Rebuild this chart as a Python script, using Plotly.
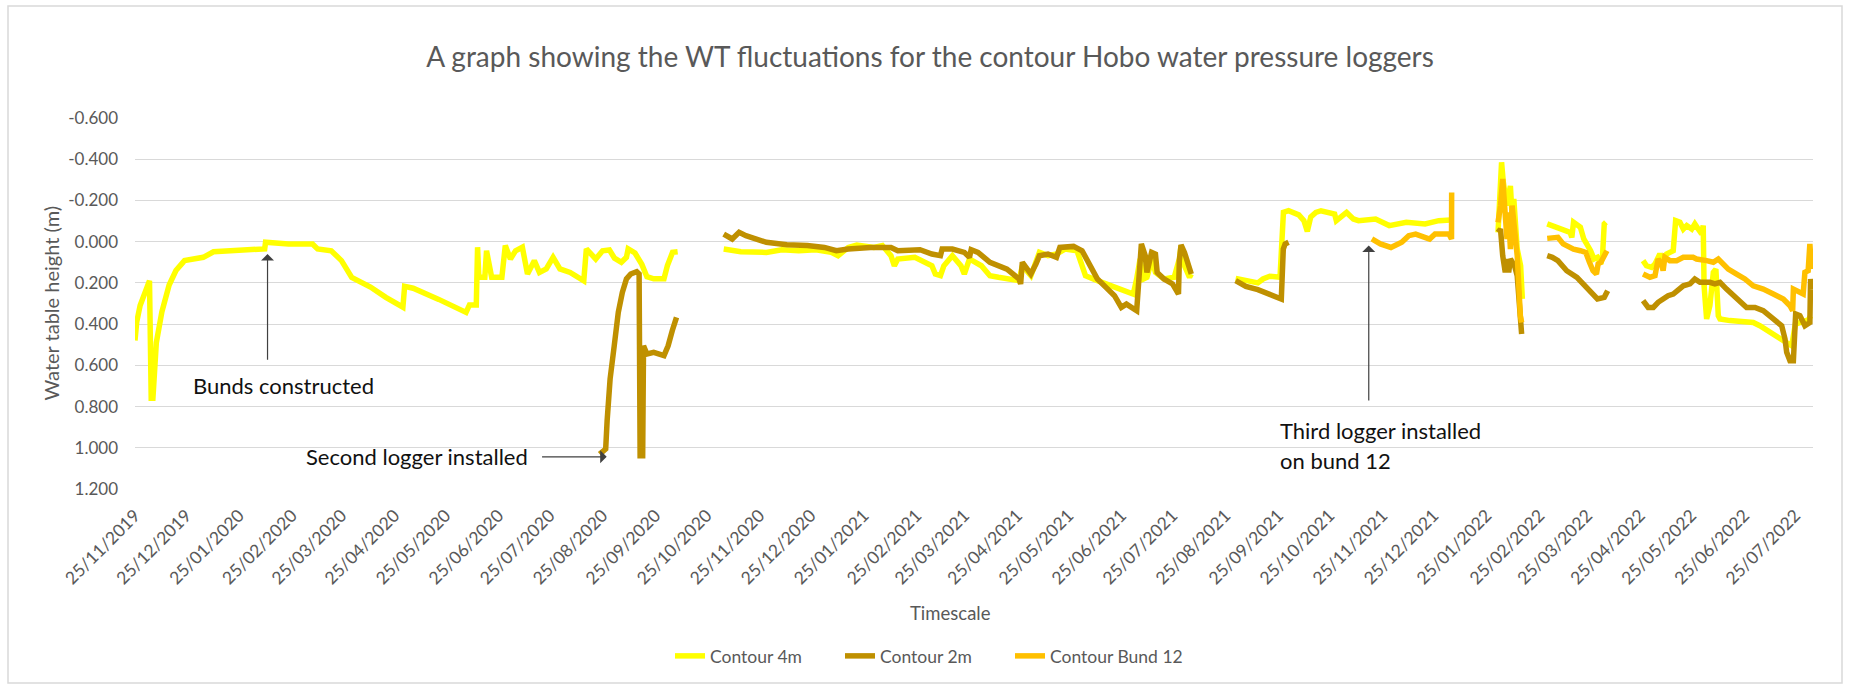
import plotly.graph_objects as go
import pandas as pd

# ---------------- data ----------------
dates_4m = [
    "2019-11-25 00:00", "2019-11-26 00:00", "2019-11-28 00:00", "2019-12-01 00:00", "2019-12-03 12:00",
    "2019-12-04 12:00", "2019-12-05 12:00", "2019-12-07 12:00", "2019-12-10 18:00", "2019-12-15 00:00",
    "2019-12-19 00:00", "2019-12-24 00:00", "2020-01-04", "2020-01-10", "2020-01-27",
    "2020-02-09 00:00", "2020-02-09 12:00", "2020-02-23", "2020-03-08", "2020-03-11",
    "2020-03-19", "2020-03-25", "2020-03-31", "2020-04-11", "2020-04-20",
    "2020-04-30", "2020-05-01", "2020-05-06", "2020-05-21", "2020-05-31",
    "2020-06-06", "2020-06-08", "2020-06-12 00:00", "2020-06-12 18:00", "2020-06-13 12:00",
    "2020-06-17", "2020-06-18", "2020-06-21", "2020-06-27", "2020-06-29",
    "2020-07-02", "2020-07-05", "2020-07-09", "2020-07-12", "2020-07-16",
    "2020-07-19", "2020-07-23", "2020-07-27", "2020-07-31", "2020-08-06",
    "2020-08-14 00:00", "2020-08-15 12:00", "2020-08-21", "2020-08-25", "2020-08-29",
    "2020-09-01", "2020-09-05", "2020-09-08", "2020-09-09", "2020-09-13",
    "2020-09-17", "2020-09-20", "2020-09-24", "2020-09-30", "2020-10-02",
    "2020-10-05", "2020-10-08",
    "2020-10-20",
    "2020-11-04", "2020-11-14", "2020-11-29", "2020-12-08", "2020-12-18",
    "2020-12-28", "2021-01-06", "2021-01-10", "2021-01-16", "2021-01-21",
    "2021-01-31", "2021-02-05", "2021-02-10", "2021-02-12", "2021-02-14",
    "2021-02-24", "2021-03-06", "2021-03-08", "2021-03-11", "2021-03-13",
    "2021-03-18", "2021-03-23", "2021-03-25", "2021-03-28", "2021-04-04",
    "2021-04-09", "2021-04-14", "2021-04-26", "2021-04-28", "2021-05-03",
    "2021-05-08", "2021-05-13", "2021-05-18", "2021-05-23", "2021-05-30",
    "2021-06-04", "2021-06-11", "2021-06-21", "2021-07-02", "2021-07-04",
    "2021-07-06", "2021-07-08", "2021-07-10", "2021-07-13", "2021-07-15",
    "2021-07-20", "2021-07-26", "2021-07-29", "2021-07-30", "2021-08-01",
    "2021-08-04", "2021-08-05",
    "2021-08-18",
    "2021-08-31", "2021-09-06", "2021-09-13", "2021-09-16", "2021-09-20",
    "2021-09-26", "2021-09-27", "2021-09-28", "2021-10-01", "2021-10-07",
    "2021-10-10", "2021-10-12", "2021-10-14", "2021-10-17", "2021-10-20",
    "2021-10-28", "2021-10-29", "2021-11-04", "2021-11-08", "2021-11-11",
    "2021-11-21", "2021-11-29", "2021-12-09", "2021-12-20", "2021-12-28",
    "2022-01-04",
    "2022-01-15",
    "2022-01-31 18:00", "2022-02-02 20:00", "2022-02-03 20:00", "2022-02-05 20:00", "2022-02-08 00:00",
    "2022-02-09 00:00", "2022-02-10 00:00", "2022-02-12 00:00", "2022-02-14 00:00", "2022-02-15 00:00",
    "2022-02-20",
    "2022-03-01 14:00", "2022-03-08 20:00", "2022-03-15", "2022-03-16", "2022-03-17",
    "2022-03-21", "2022-03-23", "2022-03-27", "2022-03-29", "2022-03-31",
    "2022-04-02", "2022-04-03", "2022-04-04", "2022-04-05",
    "2022-04-15",
    "2022-04-26 18:00", "2022-04-28 18:00", "2022-05-01 18:00", "2022-05-03 18:00", "2022-05-06 14:00",
    "2022-05-08 12:00", "2022-05-10 12:00", "2022-05-12 10:00", "2022-05-14 10:00", "2022-05-15 20:00",
    "2022-05-18 08:00", "2022-05-20 08:00", "2022-05-22 08:00", "2022-05-25 06:00", "2022-05-27 02:00",
    "2022-05-29 02:00", "2022-05-31 02:00", "2022-06-01 00:00", "2022-06-01 12:00", "2022-06-03 00:00",
    "2022-06-04 22:00", "2022-06-06 22:00", "2022-06-08 10:00", "2022-06-09 20:00", "2022-06-10 20:00",
    "2022-06-16 16:00", "2022-06-24 12:00", "2022-06-30 08:00", "2022-07-04 04:00", "2022-07-10 02:00",
    "2022-07-16 00:00", "2022-07-21 20:00", "2022-07-22 20:00", "2022-07-25 00:00", "2022-08-01 12:00",
    "2022-08-03 00:00",
]
wt_4m = [
    0.48, 0.39, 0.31, 0.25, 0.19,
    0.76, 0.76, 0.49, 0.34, 0.21,
    0.14, 0.092, 0.076, 0.049, 0.039,
    0.035, 0.003, 0.011, 0.011, 0.035,
    0.044, 0.092, 0.173, 0.22, 0.27,
    0.318, 0.217, 0.226, 0.28, 0.318,
    0.343, 0.307, 0.307, 0.027, 0.173,
    0.173, 0.044, 0.173, 0.173, 0.019,
    0.084, 0.044, 0.027, 0.157, 0.092,
    0.149, 0.132, 0.076, 0.132, 0.149,
    0.19, 0.035, 0.084, 0.044, 0.04,
    0.08, 0.1, 0.076, 0.035, 0.055,
    0.11, 0.17, 0.18, 0.18, 0.116,
    0.052, 0.049,
    None,
    0.036, 0.049, 0.052, 0.039, 0.044,
    0.039, 0.052, 0.068, 0.028, 0.016,
    0.028, 0.019, 0.068, 0.117, 0.084,
    0.076, 0.117, 0.157, 0.165, 0.117,
    0.068, 0.117, 0.157, 0.084, 0.117,
    0.165, 0.173, 0.189, 0.117, 0.165,
    0.052, 0.068, 0.06, 0.036, 0.044,
    0.165, 0.189, 0.222, 0.254, 0.181,
    0.084, 0.181, 0.173, 0.084, 0.149,
    0.181, 0.173, 0.084, 0.019, 0.117,
    0.173, 0.157,
    None,
    0.178, 0.189, 0.2, 0.181, 0.168,
    0.173, 0.003, -0.142, -0.15, -0.13,
    -0.102, -0.05, -0.12, -0.142, -0.15,
    -0.134, -0.102, -0.142, -0.11, -0.102,
    -0.11, -0.078, -0.094, -0.086, -0.102,
    -0.105,
    None,
    -0.045, -0.385, -0.29, -0.175, -0.27,
    -0.126, -0.207, 0.036, 0.117, 0.278,
    None,
    -0.086, -0.061, -0.045, -0.021, -0.094,
    -0.07, -0.013, 0.044, 0.084, 0.076,
    0.108, 0.068, -0.086, -0.094,
    None,
    0.092, 0.117, 0.125, 0.108, 0.06,
    0.092, 0.06, 0.052, 0.044, -0.102,
    -0.094, -0.061, -0.078, -0.061, -0.086,
    -0.061, -0.037, -0.078, 0.214, 0.375,
    0.31, 0.149, 0.133, 0.359, 0.375,
    0.383, 0.392, 0.392, 0.408, 0.44,
    0.472, 0.497, 0.505, 0.40, 0.38,
    0.36,
]

dates_2m = [
    "2020-08-23 08:00", "2020-08-26 20:00", "2020-08-27 16:00", "2020-08-29 10:00", "2020-08-31 20:00",
    "2020-09-03 05:00", "2020-09-05 14:00", "2020-09-08 00:00", "2020-09-10 12:00", "2020-09-14 00:00",
    "2020-09-15 10:00", "2020-09-16 00:00", "2020-09-17 12:00", "2020-09-18 00:00", "2020-09-20 00:00",
    "2020-09-24 00:00", "2020-09-30 00:00", "2020-10-02 10:00", "2020-10-04 20:00", "2020-10-07 08:00",
    "2020-10-20",
    "2020-11-04", "2020-11-09", "2020-11-13", "2020-11-17", "2020-11-29",
    "2020-12-11", "2020-12-23", "2021-01-02", "2021-01-09", "2021-01-16",
    "2021-01-29", "2021-02-10", "2021-02-14", "2021-02-22", "2021-02-27",
    "2021-03-06", "2021-03-11", "2021-03-12", "2021-03-18", "2021-03-25",
    "2021-03-28", "2021-03-29", "2021-04-02", "2021-04-09", "2021-04-14",
    "2021-04-19", "2021-04-26", "2021-04-27", "2021-04-28", "2021-05-01",
    "2021-05-03", "2021-05-06", "2021-05-08", "2021-05-13", "2021-05-18",
    "2021-05-20", "2021-05-28", "2021-06-02", "2021-06-07", "2021-06-11",
    "2021-06-16", "2021-06-21", "2021-06-25", "2021-06-28", "2021-07-04",
    "2021-07-05 12:00", "2021-07-06 18:00", "2021-07-09", "2021-07-10", "2021-07-12 18:00",
    "2021-07-15", "2021-07-16", "2021-07-20", "2021-07-25", "2021-07-28 12:00",
    "2021-07-29 00:00", "2021-07-30", "2021-08-01", "2021-08-04", "2021-08-05",
    "2021-08-18",
    "2021-08-31", "2021-09-06", "2021-09-13", "2021-09-20", "2021-09-26 18:00",
    "2021-09-27 22:00", "2021-09-29", "2021-10-01",
    "2021-10-10",
    "2022-01-31 18:00", "2022-02-02 05:00", "2022-02-03 12:00", "2022-02-05 00:00", "2022-02-06 00:00",
    "2022-02-07 00:00", "2022-02-08 00:00", "2022-02-10 10:00", "2022-02-12 00:00", "2022-02-13 20:00",
    "2022-02-14 14:00",
    "2022-02-20",
    "2022-03-01 14:00", "2022-03-04 14:00", "2022-03-07 20:00", "2022-03-13", "2022-03-19",
    "2022-03-23", "2022-03-27", "2022-03-31", "2022-04-04", "2022-04-06",
    "2022-04-15",
    "2022-04-26 18:00", "2022-04-29 18:00", "2022-05-02 18:00", "2022-05-05 14:00", "2022-05-08 12:00",
    "2022-05-11 10:00", "2022-05-14 10:00", "2022-05-17 08:00", "2022-05-20 08:00", "2022-05-24 06:00",
    "2022-05-27 02:00", "2022-05-30 02:00", "2022-06-04 22:00", "2022-06-07 20:00", "2022-06-10 20:00",
    "2022-06-14 16:00", "2022-06-20 14:00", "2022-06-26 10:00", "2022-07-01 08:00", "2022-07-06 04:00",
    "2022-07-12 02:00", "2022-07-17 00:00", "2022-07-18 22:00", "2022-07-19 22:00", "2022-07-21 20:00",
    "2022-07-23 20:00", "2022-07-25 04:00", "2022-07-27 16:00", "2022-07-30 14:00", "2022-08-02 12:00",
    "2022-08-02 22:00", "2022-08-03 12:00",
]
wt_2m = [
    1.031, 1.006, 0.869, 0.666, 0.505,
    0.343, 0.246, 0.181, 0.157, 0.146,
    0.157, 1.039, 1.039, 0.505, 0.545,
    0.537, 0.553, 0.505, 0.432, 0.367,
    None,
    -0.037, -0.013, -0.045, -0.029, 0.003,
    0.015, 0.019, 0.028, 0.044, 0.036,
    0.028, 0.028, 0.044, 0.044, 0.039,
    0.06, 0.068, 0.036, 0.036, 0.052,
    0.076, 0.039, 0.052, 0.1, 0.117,
    0.133, 0.181, 0.205, 0.1, 0.133,
    0.157, 0.108, 0.068, 0.06, 0.076,
    0.028, 0.023, 0.044, 0.125, 0.181,
    0.222, 0.262, 0.319, 0.303, 0.335,
    0.117, 0.011, 0.068, 0.149, 0.052,
    0.06, 0.149, 0.181, 0.205, 0.254,
    0.092, 0.016, 0.052, 0.141, 0.157,
    None,
    0.189, 0.217, 0.233, 0.254, 0.278,
    0.036, 0.011, 0.003,
    None,
    -0.045, -0.061, 0.068, 0.149, 0.084,
    0.149, 0.084, 0.117, 0.165, 0.392,
    0.448,
    None,
    0.068, 0.076, 0.092, 0.141, 0.173,
    0.205, 0.246, 0.278, 0.27, 0.238,
    None,
    0.286, 0.319, 0.319, 0.294, 0.278,
    0.262, 0.254, 0.23, 0.214, 0.205,
    0.181, 0.197, 0.197, 0.205, 0.197,
    0.23, 0.278, 0.319, 0.319, 0.335,
    0.375, 0.408, 0.472, 0.537, 0.578,
    0.578, 0.351, 0.359, 0.408, 0.392,
    0.181, 0.23,
]

dates_b12 = [
    "2021-11-18 20:00", "2021-11-23 20:00", "2021-11-30 00:00", "2021-12-06 08:00", "2021-12-10 10:00",
    "2021-12-14 12:00", "2021-12-22 16:00", "2021-12-25 20:00", "2022-01-03 00:00", "2022-01-04 12:00",
    "2022-01-04 14:00",
    "2022-01-15",
    "2022-01-31 18:00", "2022-02-02 05:00", "2022-02-03 12:00", "2022-02-05 00:00", "2022-02-06 00:00",
    "2022-02-07 00:00", "2022-02-08 00:00", "2022-02-09 00:00", "2022-02-10 10:00", "2022-02-12 00:00",
    "2022-02-13 20:00", "2022-02-14 14:00",
    "2022-02-20",
    "2022-03-01 14:00", "2022-03-07 20:00", "2022-03-10 22:00", "2022-03-17", "2022-03-21",
    "2022-03-24 04:00", "2022-03-26 08:00", "2022-03-28 10:00", "2022-03-30 10:00", "2022-03-31 10:00",
    "2022-04-02", "2022-04-04", "2022-04-05 14:00",
    "2022-04-15",
    "2022-04-26 18:00", "2022-04-30 18:00", "2022-05-03 18:00", "2022-05-05 14:00", "2022-05-07 14:00",
    "2022-05-08 12:00", "2022-05-09 12:00", "2022-05-12 10:00", "2022-05-16 10:00", "2022-05-20 08:00",
    "2022-05-26 02:00", "2022-05-28 02:00", "2022-06-03 00:00", "2022-06-06 22:00", "2022-06-09 20:00",
    "2022-06-12 16:00", "2022-06-15 16:00", "2022-06-20 14:00", "2022-06-25 10:00", "2022-06-30 08:00",
    "2022-07-06 04:00", "2022-07-12 02:00", "2022-07-17 22:00", "2022-07-21 20:00", "2022-07-23 10:00",
    "2022-07-23 20:00", "2022-07-27 16:00", "2022-07-29 14:00", "2022-07-30 14:00", "2022-08-01 12:00",
    "2022-08-02 12:00", "2022-08-03 12:00",
]
wt_b12 = [
    -0.013, 0.011, 0.028, 0.003, -0.029,
    -0.037, -0.013, -0.037, -0.037, -0.013,
    -0.239,
    None,
    -0.094, -0.175, -0.304, -0.159, -0.013,
    -0.142, 0.036, -0.175, -0.078, 0.068,
    0.359, 0.392,
    None,
    -0.016, -0.021, 0.011, 0.036, 0.044,
    0.052, 0.1, 0.141, 0.157, 0.108,
    0.1, 0.06, 0.044,
    None,
    0.157, 0.173, 0.165, 0.084, 0.108,
    0.141, 0.076, 0.092, 0.092, 0.076,
    0.076, 0.084, 0.092, 0.1, 0.084,
    0.108, 0.133, 0.157, 0.181, 0.214,
    0.23, 0.254, 0.278, 0.311, 0.335,
    0.23, 0.246, 0.254, 0.149, 0.141,
    0.011, 0.133,
]

x_tick_labels = [
    "25/11/2019", "25/12/2019", "25/01/2020", "25/02/2020", "25/03/2020", "25/04/2020",
    "25/05/2020", "25/06/2020", "25/07/2020", "25/08/2020", "25/09/2020", "25/10/2020",
    "25/11/2020", "25/12/2020", "25/01/2021", "25/02/2021", "25/03/2021", "25/04/2021",
    "25/05/2021", "25/06/2021", "25/07/2021", "25/08/2021", "25/09/2021", "25/10/2021",
    "25/11/2021", "25/12/2021", "25/01/2022", "25/02/2022", "25/03/2022", "25/04/2022",
    "25/05/2022", "25/06/2022", "25/07/2022",
]
y_tick_labels = ["-0.600", "-0.400", "-0.200", "0.000", "0.200", "0.400",
                 "0.600", "0.800", "1.000", "1.200"]

x_range = ["2019-11-25 00:00", "2022-08-04 08:00"]

# ---------------- figure ----------------
FONT = "Lato, 'Open Sans', sans-serif"
GREY = "#595959"

L, R, T, B = 135, 37, 118, 197
W, H = 1850, 686
PW, PH = W - L - R, H - T - B

def px(xp):
    return (xp - L) / PW

def py(yp):
    return (H - B - yp) / PH

fig = go.Figure()
series = [
    ("Contour 4m", dates_4m, wt_4m, "#FFFF00", "legend", 670),
    ("Contour 2m", dates_2m, wt_2m, "#BF9000", "legend2", 840),
    ("Contour Bund 12", dates_b12, wt_b12, "#FFC000", "legend3", 1010),
]
legend_layout = {}
for name, xs, ys, col, leg, lx in series:
    fig.add_trace(go.Scatter(
        x=pd.to_datetime(xs, format="ISO8601"), y=ys, name=name, mode="lines",
        line=dict(color=col, width=5.5, shape="linear"),
        connectgaps=False, hoverinfo="skip", legend=leg, showlegend=True,
    ))
    legend_layout[leg] = dict(
        orientation="h", x=px(lx), xanchor="left", y=py(656), yanchor="middle",
        font=dict(family=FONT, size=17.5, color=GREY),
        bgcolor="rgba(0,0,0,0)", borderwidth=0,
    )

x_tick_vals = pd.to_datetime(x_tick_labels, format="%d/%m/%Y")
y_tick_vals = [float(t) for t in y_tick_labels]

fig.update_layout(
    width=W, height=H,
    margin=dict(l=L, r=R, t=T, b=B, pad=0),
    paper_bgcolor="white", plot_bgcolor="white",
    font=dict(family=FONT, color=GREY, size=16),
    title=dict(
        text="A graph showing the WT fluctuations for the contour Hobo water pressure loggers",
        x=930 / W, xanchor="center", y=1 - 57 / H, yanchor="middle",
        font=dict(family=FONT, size=28, color=GREY),
    ),
    xaxis=dict(
        type="date", range=x_range,
        tickvals=x_tick_vals, ticktext=x_tick_labels, tickangle=-45,
        tickfont=dict(size=17.5, color=GREY), ticklabelstandoff=12,
        showgrid=False, zeroline=False, showline=False, ticks="",
    ),
    yaxis=dict(
        range=[1.2, -0.6], tickvals=y_tick_vals, ticktext=y_tick_labels,
        tickfont=dict(size=17, color=GREY),
        showgrid=True, gridcolor="#D9D9D9", gridwidth=1.3,
        zeroline=False, showline=False, ticks="", ticklabelstandoff=16,
    ),
    showlegend=True,
    hovermode=False,
    **legend_layout,
)

ANN = "#111111"
annotations = [
    dict(text="Timescale", xref="paper", yref="paper", x=px(950), y=py(613),
         showarrow=False, font=dict(family=FONT, size=18.5, color=GREY),
         xanchor="center", yanchor="middle"),
    dict(text="Water table height (m)", xref="paper", yref="paper", x=px(50), y=0.5,
         textangle=-90, showarrow=False, font=dict(family=FONT, size=20, color=GREY),
         xanchor="center", yanchor="middle"),
    dict(text="Bunds constructed", xref="x", yref="y", x="2019-12-27 14:00", y=0.70,
         showarrow=False, xanchor="left", yanchor="middle",
         font=dict(family=FONT, size=22, color=ANN)),
    dict(text="Second logger installed", xref="x", yref="y", x="2020-07-13 05:00", y=1.044,
         showarrow=False, xanchor="right", yanchor="middle",
         font=dict(family=FONT, size=22, color=ANN)),
    dict(text="Third logger installed", xref="x", yref="y", x="2021-09-25 00:00", y=0.917,
         showarrow=False, xanchor="left", yanchor="middle",
         font=dict(family=FONT, size=22, color=ANN)),
    dict(text="on bund 12", xref="x", yref="y", x="2021-09-25 00:00", y=1.06,
         showarrow=False, xanchor="left", yanchor="middle",
         font=dict(family=FONT, size=22, color=ANN)),
    dict(text="", xref="x", yref="y", axref="x", ayref="y",
         x="2020-02-10 16:00", y=0.06, ax="2020-02-10 16:00", ay=0.58,
         showarrow=True, arrowhead=1, arrowsize=1.8, arrowwidth=1.2, arrowcolor="#404040",
         standoff=0, startstandoff=0),
    dict(text="", xref="x", yref="y", axref="x", ayref="y",
         x="2020-08-27 10:00", y=1.044, ax="2020-07-19 16:00", ay=1.044,
         showarrow=True, arrowhead=1, arrowsize=1.8, arrowwidth=1.2, arrowcolor="#404040",
         standoff=0, startstandoff=0),
    dict(text="", xref="x", yref="y", axref="x", ayref="y",
         x="2021-11-17 00:00", y=0.019, ax="2021-11-17 00:00", ay=0.778,
         showarrow=True, arrowhead=1, arrowsize=1.8, arrowwidth=1.2, arrowcolor="#404040",
         standoff=0, startstandoff=0),
]
fig.update_layout(annotations=annotations)

fig.add_shape(type="rect", xref="paper", yref="paper",
              x0=px(8), x1=px(1842), y0=py(683), y1=py(6),
              line=dict(color="#D9D9D9", width=1.5), fillcolor="rgba(0,0,0,0)", layer="below")

fig.write_html("out.html", config={"displayModeBar": False},
               post_script="document.body.style.margin='0';document.body.style.overflow='hidden';")
